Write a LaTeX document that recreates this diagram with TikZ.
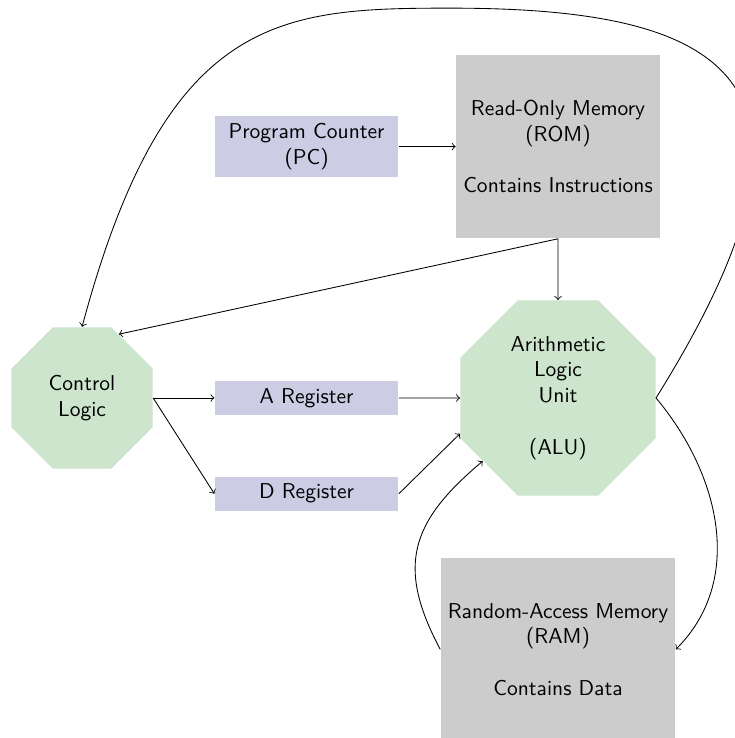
\documentclass[tikz,border=0pt]{standalone}
\usetikzlibrary{positioning,shapes.geometric}

\tikzset{
  reg/.style={rectangle, fill=blue!50!black!20, minimum width=3cm, align=center},
  mem/.style={rectangle, fill=black!20, minimum height=3cm, align=center},
  logic/.style={regular polygon, regular polygon sides=8, fill=green!50!black!20, align=center}
}

\begin{document}
\begin{tikzpicture}[font=\sffamily, node distance=1cm]
  \useasboundingbox (-9.118,-5.556) rectangle (2.876,6.503);
  \node[logic, minimum size=3.45cm] (alu) {Arithmetic\\Logic\\Unit\\\\(ALU)};
  \node[mem] (rom) [above=of alu] {Read-Only Memory\\(ROM)\\\\Contains Instructions};
  \node[reg] (areg) [left=of alu] {A Register};
  \node[reg] (pc) at (areg |- rom) {Program Counter\\(PC)};
  \node[reg] (dreg) [below=of areg] {D Register};
  \node[logic, minimum size=2.5cm] (control) [left=of areg] {Control\\Logic};
  \node[mem] (ram) [below=of alu] {Random-Access Memory\\(RAM)\\\\Contains Data};
  \coordinate (top) at (-1.76,6.37);
  \path[->]
    (pc) edge (rom)
    (rom.south) edge (alu)
    (rom.south) edge (control.60)
    (control.east) edge (areg)
    (control.east) edge (dreg.west)
    (areg) edge (alu)
    (dreg.east) edge (alu.200)
    (alu.east) edge [out=-50, in=45] (ram.east)
    (ram.west) edge [out=118, in=220, looseness=1.25] (alu);
  \draw[->] (alu.east) to[out=58, in=0, out looseness=2.2, in looseness=1.6] (top)
    to[out=180, in=75, out looseness=0.9, in looseness=1.7] (control.north);
\end{tikzpicture}
\end{document}
